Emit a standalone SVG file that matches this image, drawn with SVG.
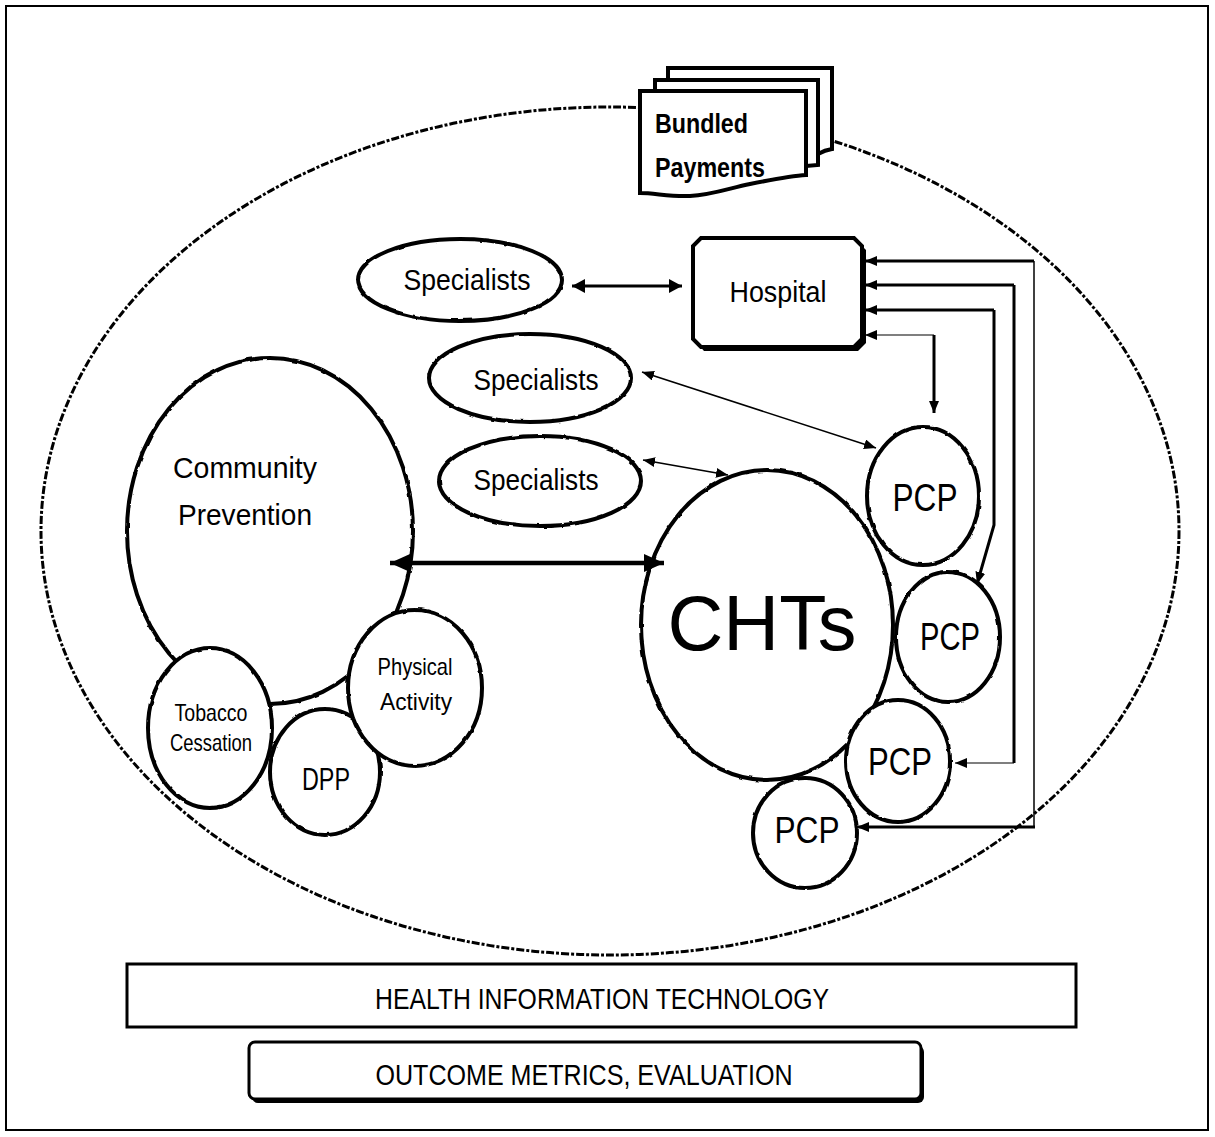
<svg xmlns="http://www.w3.org/2000/svg" width="1215" height="1137" viewBox="0 0 1215 1137">
<style>
text{font-family:"Liberation Sans",Arial,sans-serif;fill:#000;text-anchor:middle}
.sh{fill:#fff;stroke:#000;stroke-width:4}
.rough{filter:url(#rough)}
.ln{fill:none;stroke:#000}
</style>
<defs>
<filter id="rough" x="-5%" y="-5%" width="110%" height="110%">
<feTurbulence type="fractalNoise" baseFrequency="0.09" numOctaves="2" seed="3" result="n"/>
<feDisplacementMap in="SourceGraphic" in2="n" scale="2.5" xChannelSelector="R" yChannelSelector="G"/>
</filter>
<marker id="a" viewBox="0 0 12 10" refX="12" refY="5" markerWidth="12" markerHeight="10" markerUnits="userSpaceOnUse" orient="auto-start-reverse"><path d="M0,0 L12,5 L0,10 Z"/></marker>
<marker id="am" viewBox="0 0 13 14" refX="13" refY="7" markerWidth="13" markerHeight="14" markerUnits="userSpaceOnUse" orient="auto-start-reverse"><path d="M0,0 L13,7 L0,14 Z"/></marker>
<marker id="ab" viewBox="0 0 20 18" refX="20" refY="9" markerWidth="20" markerHeight="18" markerUnits="userSpaceOnUse" orient="auto-start-reverse"><path d="M0,0 L20,9 L0,18 Z"/></marker>
</defs>
<rect x="6" y="6" width="1202" height="1124" fill="#fff" stroke="#000" stroke-width="2"/>
<g id="boundary">
<ellipse cx="610" cy="531" rx="569" ry="424" fill="none" stroke="#000" stroke-width="3" stroke-dasharray="8 2 3 2"/>
</g>
<g id="bundled-payments">
<path class="sh" d="M668,68 H832 V149 Q825,150 818,154 L668,158 Z"/>
<path class="sh" d="M655,80 H818 V165 L806,166 L655,170 Z"/>
<path class="sh" d="M640,91 H806 V175 C790,176 770,180 750,184 C730,188 712,195 690,196 C670,197 655,193 640,193 Z"/>
<text x="701.5" y="133" font-size="27" font-weight="bold" textLength="93" lengthAdjust="spacingAndGlyphs">Bundled</text>
<text x="710" y="177" font-size="27" font-weight="bold" textLength="110" lengthAdjust="spacingAndGlyphs">Payments</text>
</g>
<g id="hospital">
<path d="M704,242 H858 L866,250 V343 L858,351 H704 L697,343 V250 Z" fill="#000"/>
<path class="sh" d="M701,238 H854 L862,246 V339 L854,347 H701 L693,339 V246 Z"/>
<text x="778" y="302" font-size="30" textLength="97" lengthAdjust="spacingAndGlyphs">Hospital</text>
</g>
<g id="specialists-1">
<ellipse class="sh rough" cx="460" cy="280" rx="102" ry="41"/>
<text x="467" y="290" font-size="30" textLength="127" lengthAdjust="spacingAndGlyphs">Specialists</text>
</g>
<g id="specialists-2">
<ellipse class="sh rough" cx="530" cy="378" rx="101" ry="44"/>
<text x="536" y="390" font-size="30" textLength="125" lengthAdjust="spacingAndGlyphs">Specialists</text>
</g>
<g id="specialists-3">
<ellipse class="sh rough" cx="540" cy="481" rx="101" ry="45"/>
<text x="536" y="490" font-size="30" textLength="125" lengthAdjust="spacingAndGlyphs">Specialists</text>
</g>
<g id="community-prevention">
<ellipse class="sh rough" cx="270" cy="531" rx="143" ry="173"/>
<text x="245" y="478" font-size="29" textLength="144" lengthAdjust="spacingAndGlyphs">Community</text>
<text x="245" y="525" font-size="29" textLength="134" lengthAdjust="spacingAndGlyphs">Prevention</text>
</g>
<g id="tobacco-cessation">
<ellipse class="sh rough" cx="210" cy="728" rx="62" ry="80"/>
<text x="211" y="721" font-size="24" textLength="73" lengthAdjust="spacingAndGlyphs">Tobacco</text>
<text x="211" y="751" font-size="24" textLength="82" lengthAdjust="spacingAndGlyphs">Cessation</text>
</g>
<g id="dpp">
<ellipse class="sh rough" cx="325" cy="772" rx="55" ry="63"/>
<text x="326" y="790" font-size="32" textLength="48" lengthAdjust="spacingAndGlyphs">DPP</text>
</g>
<g id="physical-activity">
<ellipse class="sh rough" cx="415" cy="688" rx="67" ry="78"/>
<text x="415" y="675" font-size="24" textLength="75" lengthAdjust="spacingAndGlyphs">Physical</text>
<text x="416" y="710" font-size="24" textLength="72" lengthAdjust="spacingAndGlyphs">Activity</text>
</g>
<g id="chts">
<ellipse class="sh rough" cx="767" cy="625" rx="126" ry="155"/>
<text x="762" y="650" font-size="78" textLength="189" lengthAdjust="spacingAndGlyphs">CHTs</text>
</g>
<g id="pcp-1">
<ellipse class="sh rough" cx="923" cy="496" rx="56" ry="69"/>
<text x="925" y="511" font-size="39" textLength="65" lengthAdjust="spacingAndGlyphs">PCP</text>
</g>
<g id="pcp-2">
<ellipse class="sh rough" cx="948" cy="637" rx="52" ry="65"/>
<text x="950" y="650" font-size="39" textLength="60" lengthAdjust="spacingAndGlyphs">PCP</text>
</g>
<g id="pcp-3">
<ellipse class="sh rough" cx="898" cy="761" rx="52" ry="61"/>
<text x="900" y="775" font-size="39" textLength="64" lengthAdjust="spacingAndGlyphs">PCP</text>
</g>
<g id="pcp-4">
<ellipse class="sh rough" cx="805" cy="833" rx="52" ry="55"/>
<text x="807" y="843" font-size="37" textLength="65" lengthAdjust="spacingAndGlyphs">PCP</text>
</g>
<g id="connectors">
<path class="ln" stroke-width="3" d="M572,286 H682" marker-start="url(#am)" marker-end="url(#am)"/>
<path class="ln" stroke-width="1.6" d="M642,372 L876,448" marker-start="url(#a)" marker-end="url(#a)"/>
<path class="ln" stroke-width="1.6" d="M643,460 L728,475" marker-start="url(#a)" marker-end="url(#a)"/>
<path class="ln" stroke-width="4.5" d="M390,563 H664" marker-start="url(#ab)" marker-end="url(#ab)"/>
<path class="ln" stroke-width="3" d="M1034,261 H865" marker-end="url(#a)"/>
<path class="ln" stroke-width="1.5" stroke="#777" d="M1034,261 V827"/>
<path class="ln" stroke-width="3" d="M1035,827 H857" marker-end="url(#a)"/>
<path class="ln" stroke-width="3" d="M1014,285 H865" marker-end="url(#a)"/>
<path class="ln" stroke-width="3" d="M1014,285 V763"/>
<path class="ln" stroke-width="1.2" d="M1014,763 H955" marker-end="url(#a)"/>
<path class="ln" stroke-width="3" d="M994,310 H865" marker-end="url(#a)"/>
<path class="ln" stroke-width="3" d="M994,310 V525 L977,584" marker-end="url(#a)"/>
<path class="ln" stroke-width="1.2" d="M934,335 H865" marker-end="url(#a)"/>
<path class="ln" stroke-width="3" d="M934,335 V413" marker-end="url(#a)"/>
</g>
<g id="health-information-technology">
<rect x="127" y="964" width="949" height="63" fill="#fff" stroke="#000" stroke-width="3"/>
<text x="602" y="1009" font-size="30" textLength="454" lengthAdjust="spacingAndGlyphs">HEALTH INFORMATION TECHNOLOGY</text>
</g>
<g id="outcome-metrics">
<rect x="252" y="1046" width="672" height="57" rx="6" fill="#000"/>
<rect x="249" y="1042" width="672" height="57" rx="6" fill="#fff" stroke="#000" stroke-width="3"/>
<text x="584" y="1085" font-size="30" textLength="417" lengthAdjust="spacingAndGlyphs">OUTCOME METRICS, EVALUATION</text>
</g>
</svg>
